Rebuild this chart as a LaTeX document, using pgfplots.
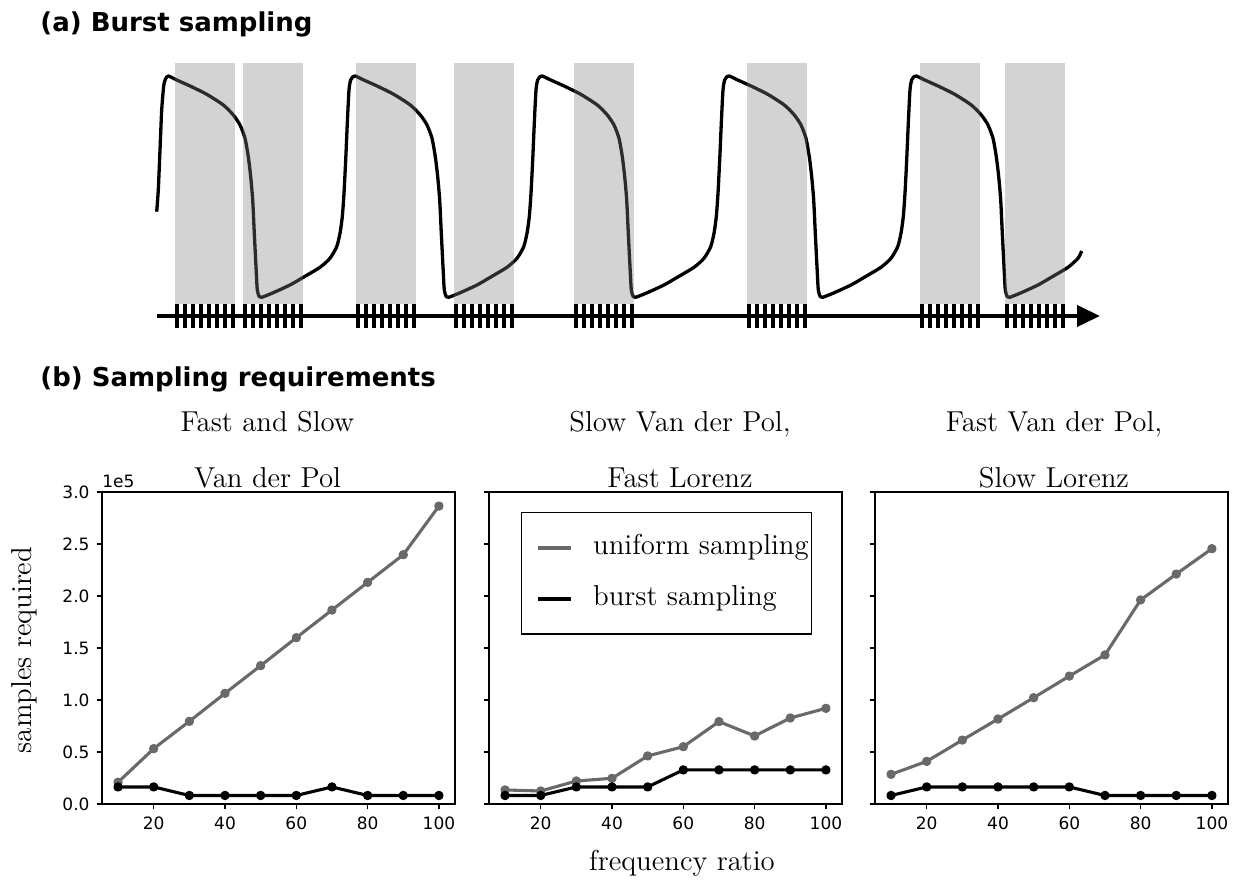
\documentclass[border=0pt]{standalone}
\usepackage{fontspec}
\usepackage{pgfplots}
\pgfplotsset{compat=1.18}
\usetikzlibrary{arrows.meta}
\newfontfamily\dejavu{DejaVu Sans}
\definecolor{ugray}{RGB}{105,105,105}
\newcommand{\tickfont}{\dejavu\fontsize{8.5}{10}\selectfont}
\newcommand{\serifbig}{\fontsize{14.4}{17}\selectfont}
\newcommand{\headfont}{\dejavu\bfseries\fontsize{13}{15.6}\selectfont}

\pgfplotsset{
  panel/.style={
    anchor=south west, scale only axis, width=176.5pt, height=156pt,
    xmin=5.5, xmax=104.5, ymin=0, ymax=300000,
    xtick={20,40,60,80,100},
    ytick={0,50000,100000,150000,200000,250000,300000},
    scaled y ticks=false,
    tick align=outside, xtick pos=bottom, ytick pos=left,
    major tick length=2.7pt,
    axis line style={line width=0.6pt},
    every tick/.style={line width=0.6pt, black},
    ticklabel style={font=\tickfont},
    /pgf/number format/assume math mode=true,
  },
  uni/.style={color=ugray, line width=1.55pt, mark=*, mark size=1.55pt, line join=round},
  bur/.style={color=black, line width=1.55pt, mark=*, mark size=1.55pt, line join=round},
}

\begin{document}
\begin{tikzpicture}[x=0.5pt,y=0.5pt]
\path[use as bounding box] (0,0) rectangle (1239,888);

% ---------------- (a) Burst sampling ----------------
\node[anchor=base west, inner sep=0, font=\headfont] at (40,856.3) {(a) Burst sampling};

\begin{axis}[at={(75pt,276.5pt)}, anchor=south west, scale only axis,
  width=480pt, height=140pt, xmin=150, xmax=1110, ymin=55, ymax=335,
  y dir=reverse, hide axis, clip=false]
% waveform
\addplot[black, line width=1.65pt, line join=round, smooth, tension=0.4] coordinates {
(156.7,211.7)(158.3,190)(160,150)(161.7,110)(163.7,86)(165.5,79)
(168.3,76)(176.7,80)(190,86)(206.7,94.3)(223.3,105)(233.3,115)(240,125)(245,138.3)(248.3,156.7)(250.7,176.7)(252.7,200)(254.3,233.3)(256,266.7)(257.3,290)(259.3,296.7)(261.7,297.3)(273.3,292.7)(290,285)(303.3,277.3)(320,267.3)(330,258.3)(336.7,246.7)(340,233.3)(342.3,216.7)(344,193.3)(345.7,160)(347.3,123.3)(349,90)(350.7,80)(353.3,76.5)
(355.3,76)(363.7,80)(377,86)(393.7,94.3)(410.3,105)(420.3,115)(427,125)(432,138.3)(435.3,156.7)(437.7,176.7)(439.7,200)(441.3,233.3)(443,266.7)(444.3,290)(446.3,296.7)(448.7,297.3)(460.3,292.7)(477,285)(490.3,277.3)(507,267.3)(517,258.3)(523.7,246.7)(527,233.3)(529.3,216.7)(531,193.3)(532.7,160)(534.3,123.3)(536,90)(537.7,80)(540.3,76.5)
(542.3,76)(550.7,80)(564,86)(580.7,94.3)(597.3,105)(607.3,115)(614,125)(619,138.3)(622.3,156.7)(624.7,176.7)(626.7,200)(628.3,233.3)(630,266.7)(631.3,290)(633.3,296.7)(635.7,297.3)(647.3,292.7)(664,285)(677.3,277.3)(694,267.3)(704,258.3)(710.7,246.7)(714,233.3)(716.3,216.7)(718,193.3)(719.7,160)(721.3,123.3)(723,90)(724.7,80)(727.3,76.5)
(729.3,76)(737.7,80)(751,86)(767.7,94.3)(784.3,105)(794.3,115)(801,125)(806,138.3)(809.3,156.7)(811.7,176.7)(813.7,200)(815.3,233.3)(817,266.7)(818.3,290)(820.3,296.7)(822.7,297.3)(834.3,292.7)(851,285)(864.3,277.3)(881,267.3)(891,258.3)(897.7,246.7)(901,233.3)(903.3,216.7)(905,193.3)(906.7,160)(908.3,123.3)(910,90)(911.7,80)(914.3,76.5)
(916.3,76)(924.7,80)(938,86)(954.7,94.3)(971.3,105)(981.3,115)(988,125)(993,138.3)(996.3,156.7)(998.7,176.7)(1000.7,200)(1002.3,233.3)(1004,266.7)(1005.3,290)(1007.3,296.7)(1009.7,297.3)(1021.3,292.7)(1038,285)(1051.3,277.3)(1068,267.3)(1078,258.3)(1081.7,251)
};
% time axis arrow
\addplot[black, line width=2pt, -{Triangle[length=11.5pt,width=10.5pt]}] coordinates {(157,316)(1100,316)};
% sample ticks
\addplot[only marks, mark=|, mark size=6pt, mark options={line width=1.7pt, black}] coordinates {
(177,316)(185,316)(193,316)(201,316)(209,316)(217,316)(225,316)(233,316)
(245,316)(253,316)(261,316)(269,316)(277,316)(285,316)(293,316)(301,316)
(358,316)(366,316)(374,316)(382,316)(390,316)(398,316)(406,316)(414,316)
(456,316)(464,316)(472,316)(480,316)(488,316)(496,316)(504,316)(512,316)
(576,316)(584,316)(592,316)(600,316)(608,316)(616,316)(624,316)(632,316)
(749,316)(757,316)(765,316)(773,316)(781,316)(789,316)(797,316)(805,316)
(922,316)(930,316)(938,316)(946,316)(954,316)(962,316)(970,316)(978,316)
(1007,316)(1015,316)(1023,316)(1031,316)(1039,316)(1047,316)(1055,316)(1063,316)
};
% shaded windows
\addplot[draw=none, fill=gray, fill opacity=0.35] coordinates {(175,62.7)(235,62.7)(235,304)(175,304)};
\addplot[draw=none, fill=gray, fill opacity=0.35] coordinates {(243,62.7)(303,62.7)(303,304)(243,304)};
\addplot[draw=none, fill=gray, fill opacity=0.35] coordinates {(356,62.7)(416,62.7)(416,304)(356,304)};
\addplot[draw=none, fill=gray, fill opacity=0.35] coordinates {(454,62.7)(514,62.7)(514,304)(454,304)};
\addplot[draw=none, fill=gray, fill opacity=0.35] coordinates {(574,62.7)(634,62.7)(634,304)(574,304)};
\addplot[draw=none, fill=gray, fill opacity=0.35] coordinates {(747,62.7)(807,62.7)(807,304)(747,304)};
\addplot[draw=none, fill=gray, fill opacity=0.35] coordinates {(920,62.7)(980,62.7)(980,304)(920,304)};
\addplot[draw=none, fill=gray, fill opacity=0.35] coordinates {(1005,62.7)(1065,62.7)(1065,304)(1005,304)};
\end{axis}

% ---------------- (b) Sampling requirements ----------------
\node[anchor=base west, inner sep=0, font=\headfont] at (40,501.3) {(b) Sampling requirements};

\node[anchor=base, inner sep=0, font=\serifbig] at (267.5,456) {Fast and Slow};
\node[anchor=base, inner sep=0, font=\serifbig] at (267.5,400) {Van der Pol};
\node[anchor=base, inner sep=0, font=\serifbig] at (680,456) {Slow Van der Pol,};
\node[anchor=base, inner sep=0, font=\serifbig] at (680,400) {Fast Lorenz};
\node[anchor=base, inner sep=0, font=\serifbig] at (1054,456) {Fast Van der Pol,};
\node[anchor=base, inner sep=0, font=\serifbig] at (1054,400) {Slow Lorenz};
\node[rotate=90, inner sep=0, font=\serifbig] at (24,238) {samples required};
\node[anchor=base, inner sep=0, font=\serifbig] at (682,17) {frequency ratio};
\node[anchor=base west, inner sep=0, font=\tickfont] at (102,400) {1e5};

\begin{axis}[panel, at={(51pt,42pt)},
  yticklabels={0.0,0.5,1.0,1.5,2.0,2.5,3.0}]
\addplot[uni] coordinates {(10,20900)(20,53200)(30,79500)(40,106400)(50,133000)(60,159900)(70,186500)(80,213100)(90,239700)(100,286500)};
\addplot[bur] coordinates {(10,16384)(20,16384)(30,8192)(40,8192)(50,8192)(60,8192)(70,16384)(80,8192)(90,8192)(100,8192)};
\end{axis}

\begin{axis}[panel, at={(244.5pt,42pt)}, yticklabels={},
  legend style={at={(0.0907,0.936)}, anchor=north west, draw=black, line width=0.6pt,
    inner xsep=1.5pt, inner ysep=10pt, font=\serifbig, row sep=10.7pt, column sep=10pt,
    cells={anchor=west}, nodes={inner sep=0pt, text height=11pt, text depth=4pt}},
  legend image code/.code={\path (-6pt,0pt); \draw[#1, line width=2pt] (0pt,0pt) -- (16.5pt,0pt);}]
\addplot[uni] coordinates {(10,13500)(20,12500)(30,22100)(40,24700)(50,46200)(60,55100)(70,79200)(80,65400)(90,82700)(100,92000)};
\addlegendentry{uniform sampling}
\addplot[bur] coordinates {(10,8192)(20,8192)(30,16384)(40,16384)(50,16384)(60,32768)(70,32768)(80,32768)(90,32768)(100,32768)};
\addlegendentry{burst sampling}
\end{axis}

\begin{axis}[panel, at={(437.5pt,42pt)}, yticklabels={}]
\addplot[uni] coordinates {(10,28500)(20,41000)(30,61500)(40,81700)(50,102200)(60,123000)(70,143300)(80,196200)(90,221100)(100,245500)};
\addplot[bur] coordinates {(10,8192)(20,16384)(30,16384)(40,16384)(50,16384)(60,16384)(70,8192)(80,8192)(90,8192)(100,8192)};
\end{axis}
\end{tikzpicture}
\end{document}
